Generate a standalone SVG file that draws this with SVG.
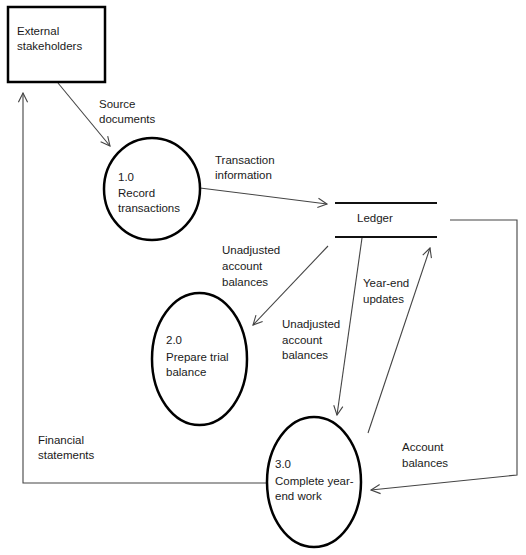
<svg xmlns="http://www.w3.org/2000/svg" width="526" height="555" viewBox="0 0 526 555">
<style>
text{font-family:"Liberation Sans",Arial,sans-serif;font-size:11.5px;fill:#1a1a1a}
.node{fill:#fff;stroke:#000;stroke-width:2.5}
.flow{fill:none;stroke:#444;stroke-width:1.1;marker-end:url(#arr)}
.store{stroke:#111;stroke-width:2.2}
</style>
<defs>
<marker id="arr" viewBox="0 0 12 12" refX="11" refY="6" markerWidth="11" markerHeight="11" markerUnits="userSpaceOnUse" orient="auto">
<path d="M1,1 L11,6 L1,11" fill="none" stroke="#444" stroke-width="1.2"/>
</marker>
</defs>
<rect width="526" height="555" fill="#fff"/>
<g id="connectors">
<path class="flow" d="M58,83 L110,146"/>
<path class="flow" d="M200,188 L327,204"/>
<path class="flow" d="M328,246 L253,325"/>
<path class="flow" d="M362,238 L337,415"/>
<path class="flow" d="M368,433 L430,248"/>
<path class="flow" d="M450,220 L517,220 L517,475 L371,490"/>
<path class="flow" d="M267,483 L23,483 L23,93"/>
<text x="99" y="108">Source</text>
<text x="99" y="123">documents</text>
<text x="215" y="164">Transaction</text>
<text x="215" y="179">information</text>
<text x="222" y="254">Unadjusted</text>
<text x="222" y="270">account</text>
<text x="222" y="286">balances</text>
<text x="282" y="328">Unadjusted</text>
<text x="282" y="344">account</text>
<text x="282" y="359">balances</text>
<text x="363" y="287">Year-end</text>
<text x="363" y="303">updates</text>
<text x="402" y="451">Account</text>
<text x="402" y="467">balances</text>
<text x="38" y="444">Financial</text>
<text x="38" y="459">statements</text>
</g>
<g id="external">
<rect class="node" x="8" y="7" width="97" height="75"/>
<text x="17" y="35">External</text>
<text x="17" y="50">stakeholders</text>
</g>
<g id="p1">
<ellipse class="node" cx="152" cy="189" rx="48" ry="51"/>
<text x="118" y="181">1.0</text>
<text x="118" y="197">Record</text>
<text x="118" y="212">transactions</text>
</g>
<g id="ledger">
<line class="store" x1="335" y1="203" x2="437" y2="203"/>
<line class="store" x1="335" y1="237" x2="437" y2="237"/>
<text x="357" y="222">Ledger</text>
</g>
<g id="p2">
<ellipse class="node" cx="199.5" cy="359" rx="47.5" ry="66"/>
<text x="166" y="344">2.0</text>
<text x="166" y="361">Prepare trial</text>
<text x="166" y="376">balance</text>
</g>
<g id="p3">
<ellipse class="node" cx="314" cy="482" rx="47" ry="65"/>
<text x="275" y="468">3.0</text>
<text x="275" y="485">Complete year-</text>
<text x="275" y="500">end work</text>
</g>
</svg>
